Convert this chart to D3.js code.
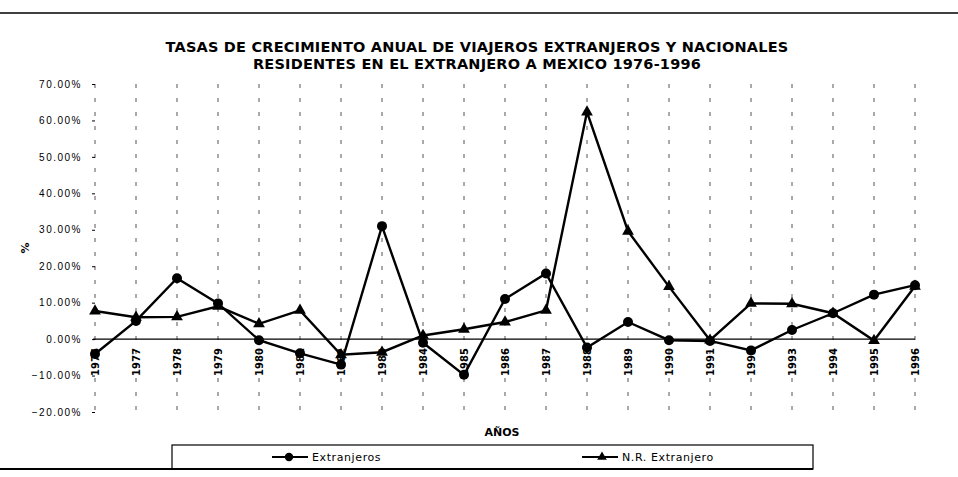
<!DOCTYPE html>
<html>
<head>
<meta charset="utf-8">
<script src="https://cdn.jsdelivr.net/npm/d3@7"></script>
<style>
  body { margin: 0; background: #fff; }
  svg { display: block; font-family: "DejaVu Sans", "Liberation Sans", Arial, sans-serif; }
</style>
</head>
<body>
<svg id="chart" width="958" height="477"></svg>
<script>
var years = ["1976", "1977", "1978", "1979", "1980", "1981", "1982", "1983", "1984", "1985", "1986",
             "1987", "1988", "1989", "1990", "1991", "1992", "1993", "1994", "1995", "1996"];
// tasas en %
var extranjeros = [-4.1, 5.0, 16.7, 9.8, -0.3, -3.9, -7.0, 31.0, -1.0, -9.8, 11.0,
                   18.0, -2.3, 4.7, -0.3, -0.5, -3.1, 2.5, 7.1, 12.2, 14.8];
var nrExtranjero = [7.7, 6.0, 6.1, 9.0, 4.2, 7.9, -4.3, -3.6, 1.0, 2.7, 4.7,
                    7.9, 62.3, 29.6, 14.4, -0.3, 9.8, 9.7, 7.1, -0.4, 14.5];
var yTicks = [-0.2, -0.1, 0, 0.1, 0.2, 0.3, 0.4, 0.5, 0.6, 0.7];
var seriesNames = ["Extranjeros", "N.R. Extranjero"];

var titleLines = ["TASAS DE CRECIMIENTO ANUAL DE VIAJEROS EXTRANJEROS Y NACIONALES",
                  "RESIDENTES EN EL EXTRANJERO A MEXICO 1976-1996"];

var svg = d3.select("#chart");

var x = d3.scalePoint().domain(years).range([95, 915]);
var y = d3.scaleLinear().domain([-0.2, 0.7]).range([412, 84]);

// top rule
svg.append("line")
    .attr("x1", 0).attr("x2", 958)
    .attr("y1", 13).attr("y2", 13)
    .style("stroke", "#000").style("stroke-width", 1.6);

svg.selectAll("text.title")
    .data(titleLines)
    .enter().append("text")
    .attr("class", "title")
    .attr("x", 477)
    .attr("y", function(d, i) { return 52 + i * 17; })
    .attr("text-anchor", "middle")
    .style("font-size", "14.5px")
    .style("font-weight", "bold")
    .style("letter-spacing", "0.2px")
    .text(function(d) { return d; });

// vertical dashed grid at each year
svg.append("g")
    .selectAll("line")
    .data(years)
    .enter().append("line")
    .attr("x1", function(d) { return x(d); })
    .attr("x2", function(d) { return x(d); })
    .attr("y1", y(0.7))
    .attr("y2", y(-0.2))
    .style("stroke", "#555")
    .style("stroke-width", 1)
    .style("stroke-dasharray", "4,10");

// y axis (ticks + labels only)
var yAxis = d3.axisLeft(y).tickValues(yTicks).tickFormat(d3.format(".2%")).tickSize(3).tickPadding(10);
var gy = svg.append("g").attr("transform", "translate(95,0)").call(yAxis);
gy.select(".domain").remove();
gy.selectAll("text")
    .style("font-size", "10px")
    .style("letter-spacing", "1.5px")
    .style("fill", "#000");

svg.append("text")
    .attr("transform", "translate(29,248) rotate(-90)")
    .attr("text-anchor", "middle")
    .style("font-size", "11px")
    .style("font-weight", "bold")
    .text("%");

// zero line
svg.append("line")
    .attr("x1", x(years[0]) - 2).attr("x2", x(years[years.length - 1]))
    .attr("y1", y(0)).attr("y2", y(0))
    .style("stroke", "#000").style("stroke-width", 1.3);

// year labels, rotated under the zero line
svg.append("g")
    .selectAll("text")
    .data(years)
    .enter().append("text")
    .attr("transform", function(d) { return "translate(" + (x(d) + 4) + "," + (y(0) + 9) + ") rotate(-90)"; })
    .attr("text-anchor", "end")
    .style("font-size", "10px")
    .style("font-weight", "bold")
    .text(function(d) { return d; });

svg.append("text")
    .attr("x", 502).attr("y", 436)
    .attr("text-anchor", "middle")
    .style("font-size", "11px")
    .style("font-weight", "bold")
    .text("AÑOS");

var line = d3.line()
    .x(function(d, i) { return x(years[i]); })
    .y(function(d) { return y(d / 100); });

var triangle = d3.symbol().type(d3.symbolTriangle).size(60);

var drawSeries = function(values, marker) {
    var g = svg.append("g");
    g.append("path")
        .datum(values)
        .attr("d", line)
        .style("fill", "none")
        .style("stroke", "#000")
        .style("stroke-width", 2.4);
    if (marker == "circle") {
        g.selectAll("circle")
            .data(values)
            .enter().append("circle")
            .attr("cx", function(d, i) { return x(years[i]); })
            .attr("cy", function(d) { return y(d / 100); })
            .attr("r", 5)
            .style("fill", "#000");
    } else {
        g.selectAll("path.mk")
            .data(values)
            .enter().append("path")
            .attr("class", "mk")
            .attr("d", triangle)
            .attr("transform", function(d, i) { return "translate(" + x(years[i]) + "," + y(d / 100) + ")"; })
            .style("fill", "#000");
    }
}

drawSeries(extranjeros, "circle");
drawSeries(nrExtranjero, "triangle");

// legend
svg.append("rect")
    .attr("x", 172).attr("y", 445)
    .attr("width", 641).attr("height", 24)
    .style("fill", "none")
    .style("stroke", "#000")
    .style("stroke-width", 1.2);
svg.append("line")
    .attr("x1", 0).attr("x2", 813)
    .attr("y1", 469).attr("y2", 469)
    .style("stroke", "#000").style("stroke-width", 1.8);

var legendX = [272, 582];
var lg = svg.append("g");
lg.selectAll("line")
    .data(seriesNames)
    .enter().append("line")
    .attr("x1", function(d, i) { return legendX[i]; })
    .attr("x2", function(d, i) { return legendX[i] + 36; })
    .attr("y1", 457).attr("y2", 457)
    .style("stroke", "#000").style("stroke-width", 2);
lg.append("circle")
    .attr("cx", legendX[0] + 17).attr("cy", 457).attr("r", 4.2)
    .style("fill", "#000");
lg.append("path")
    .attr("d", d3.symbol().type(d3.symbolTriangle).size(40))
    .attr("transform", "translate(" + (legendX[1] + 20) + ",457)")
    .style("fill", "#000");
lg.selectAll("text")
    .data(seriesNames)
    .enter().append("text")
    .attr("x", function(d, i) { return legendX[i] + 40; })
    .attr("y", 461)
    .style("font-size", "11px")
    .style("letter-spacing", "0.6px")
    .text(function(d) { return d; });
</script>
</body>
</html>
